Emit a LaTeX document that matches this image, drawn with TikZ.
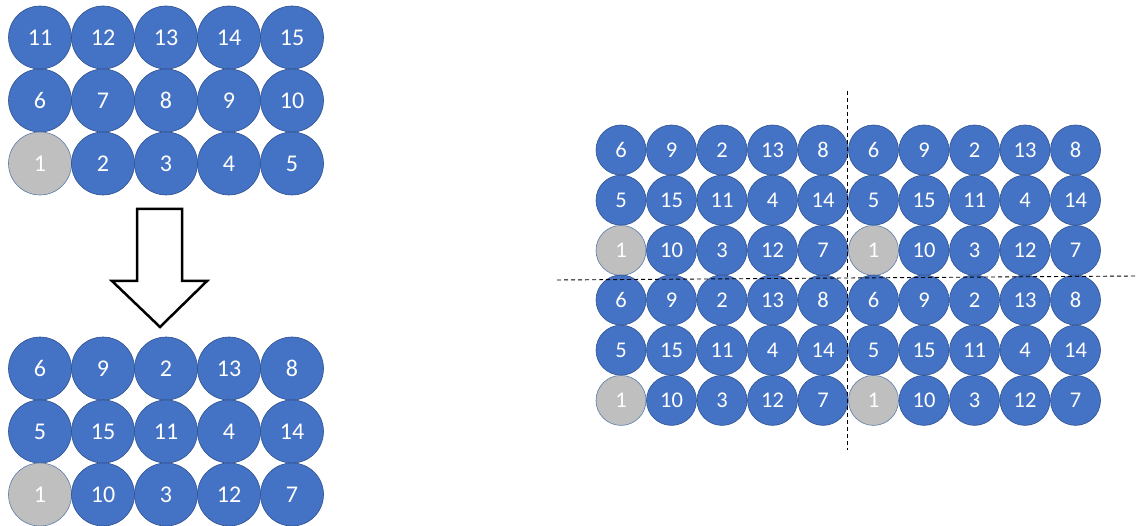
\documentclass[tikz,border=0pt]{standalone}
\usepackage{fontspec}
\setmainfont{Carlito}
\definecolor{ballblue}{HTML}{4472C4}
\definecolor{balledge}{HTML}{2F528F}
\definecolor{ballgray}{HTML}{BFBFBF}
\definecolor{grayedge}{HTML}{5B7BA8}
\tikzset{
  ball/.style={circle, fill=ballblue, draw=balledge, line width=0.6pt, text=white, inner sep=0pt},
  bigball/.style={ball, minimum size=63pt, font=\fontsize{24}{24}\selectfont},
  smallball/.style={ball, minimum size=50pt, font=\fontsize{22.5}{22.5}\selectfont},
  lab1/.style={fill=ballgray, draw=grayedge},
  arrowshape/.style={draw=black, line width=2.5pt, fill=white, line join=miter},
  divider/.style={draw=black, line width=0.9pt, dash pattern=on 4pt off 3pt}
}
\begin{document}
\begin{tikzpicture}[x=1pt,y=-1pt]
\useasboundingbox (0,0) rectangle (1137,526);
% top-left grid
\foreach \row [count=\r] in {{11,12,13,14,15},{6,7,8,9,10},{1,2,3,4,5}} {
  \foreach \v [count=\c] in \row {
    \node[bigball, lab\v/.try] (a-\r-\c) at ({40+63*(\c-1)},{37.5+63*(\r-1)}) {\v};
  }
}
% bottom-left grid
\foreach \row [count=\r] in {{6,9,2,13,8},{5,15,11,4,14},{1,10,3,12,7}} {
  \foreach \v [count=\c] in \row {
    \node[bigball, lab\v/.try] (b-\r-\c) at ({40+63*(\c-1)},{368.5+63*(\r-1)}) {\v};
  }
}
% arrow
\draw[arrowshape] (137,209) -- (182,209) -- (182,281) -- (207,281) -- (160,327) -- (112,281) -- (137,281) -- cycle;
% right tiled grid
\foreach \bx in {0,1} {
  \foreach \by in {0,1} {
    \foreach \row [count=\r] in {{6,9,2,13,8},{5,15,11,4,14},{1,10,3,12,7}} {
      \foreach \v [count=\c] in \row {
        \node[smallball, lab\v/.try] (t-\bx-\by-\r-\c) at ({621+252.5*\bx+50.5*(\c-1)},{150+150*\by+50.2*(\r-1)}) {\v};
      }
    }
  }
}
% dashed dividers
\coordinate (v1) at (847,91);
\coordinate (v2) at (847,450);
\coordinate (h1) at (557,280);
\coordinate (h2) at (1135,276);
\draw[divider] (v1) -- (v2);
\draw[divider] (h1) -- (h2);
\end{tikzpicture}
\end{document}
